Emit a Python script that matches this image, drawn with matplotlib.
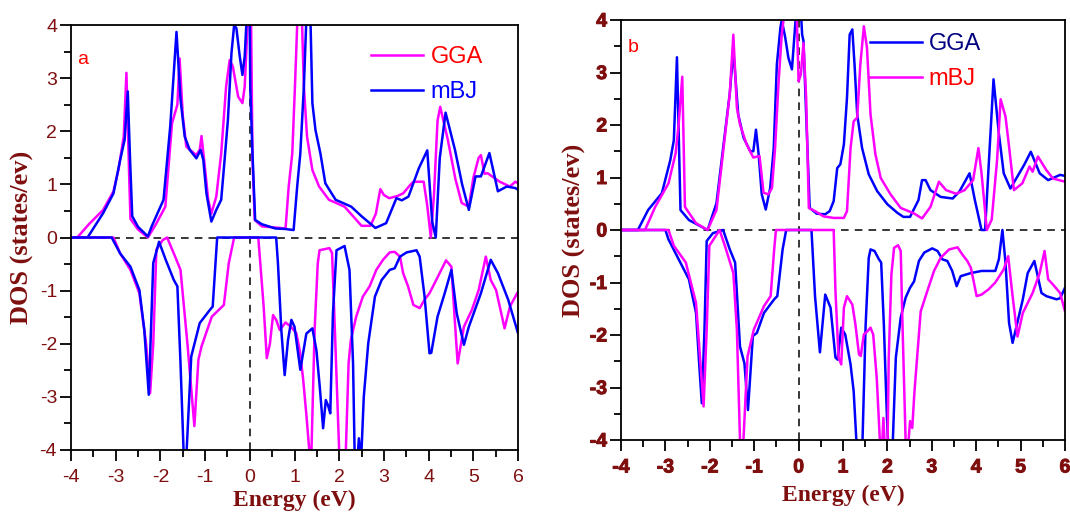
import os
import matplotlib
matplotlib.use("Agg")
import matplotlib.pyplot as plt
import matplotlib.patheffects as pe
from matplotlib.ticker import MultipleLocator
from matplotlib.font_manager import FontProperties

# ---- panel a : spin up ----
a_gga_up_x = [-4, -3.86, -3.6, -3.28, -3.05, -2.94, -2.82, -2.76, -2.7, -2.67, -2.5, -2.28, -2.1, -1.89,
              -1.74, -1.62, -1.57, -1.5, -1.42, -1.2, -1.12, -1.08, -1.03, -0.93, -0.86, -0.75, -0.64,
              -0.53, -0.45, -0.38, -0.26, -0.165, -0.114, -0.05, 0.0, 0.03, 0.06, 0.11, 0.27, 0.8, 0.87,
              0.95, 1.01, 1.06, 1.11, 1.17, 1.21, 1.28, 1.4, 1.55, 1.77, 2.12, 2.5, 2.7, 2.82, 2.92, 3.0,
              3.12, 3.3, 3.43, 3.6, 3.66, 3.89, 3.97, 4.05, 4.12, 4.2, 4.26, 4.43, 4.6, 4.74, 4.9, 5.0,
              5.12, 5.17, 5.25, 5.32, 5.59, 5.82, 5.94, 6.0]
a_gga_up_y = [0, 0, 0.25, 0.52, 0.87, 1.27, 1.9, 3.1, 1.2, 0.35, 0.15, 0.0, 0.25, 0.58,
              2.15, 2.5, 3.37, 2.3, 1.71, 1.55, 1.65, 1.91, 1.52, 0.71, 0.45, 0.77, 1.58,
              2.84, 3.34, 3.22, 2.65, 2.53, 2.84, 4.0, 5.0, 4.0, 1.5, 0.33, 0.21, 0.17, 0.96,
              1.58, 2.84, 4.0, 5.0, 4.0, 2.84, 1.9, 1.27, 0.96, 0.71, 0.58, 0.22, 0.22, 0.45, 0.91, 0.8,
              0.74, 0.78, 0.83, 1.0, 1.05, 1.05, 0.6, 0.0, 0.8, 2.2, 2.46, 1.84, 1.1, 0.65, 0.58, 1.12,
              1.5, 1.55, 1.2, 1.21, 1.05, 0.96, 1.05, 1.02]

a_mbj_up_x = [-4, -3.63, -3.28, -3.05, -2.9, -2.8, -2.73, -2.68, -2.63, -2.5, -2.28, -2.2, -1.93, -1.78,
              -1.64, -1.55, -1.456, -1.344, -1.195, -1.1, -1.04, -0.97, -0.86, -0.75, -0.64, -0.57,
              -0.49, -0.41, -0.35, -0.3, -0.225, -0.165, -0.114, -0.08, -0.04, -0.01, 0.01, 0.06, 0.12,
              0.27, 0.57, 0.8, 0.98, 1.06, 1.13, 1.21, 1.26, 1.31, 1.36, 1.4, 1.47, 1.58, 1.69, 1.92,
              2.27, 2.5, 2.81, 3.05, 3.28, 3.4, 3.55, 3.78, 3.97, 4.08, 4.16, 4.25, 4.38, 4.59, 4.75,
              4.9, 5.05, 5.17, 5.36, 5.55, 5.75, 5.94, 6.0]
a_mbj_up_y = [0, 0, 0.46, 0.83, 1.46, 1.84, 2.75, 1.5, 0.4, 0.2, 0.02, 0.2, 0.71, 2.09,
              3.87, 2.6, 1.9, 1.65, 1.49, 1.65, 1.46, 0.83, 0.3, 0.52, 0.71, 1.4,
              2.21, 3.47, 4.0, 3.94, 3.41, 3.06, 3.41, 3.97, 5.0, 5.0, 2.84, 1.58, 0.33,
              0.25, 0.17, 0.16, 0.14, 0.96, 1.58, 2.84, 4.0, 5.0, 4.0, 2.53, 2.02, 1.58, 1.02, 0.71,
              0.58, 0.4, 0.18, 0.27, 0.74, 0.7, 0.77, 1.3, 1.64, 0.3, 0.0, 1.5, 2.35, 1.65, 1.0,
              0.52, 1.15, 1.15, 1.59, 0.87, 0.96, 0.93, 0.9]

# ---- panel a : spin down ----
a_gga_dn_x = [-4, -3.05, -2.9, -2.67, -2.47, -2.32, -2.23, -2.16, -2.09, -1.95, -1.85, -1.7, -1.55,
              -1.39, -1.24, -1.15, -1.08, -0.85, -0.58, -0.47, -0.35, 0.19, 0.31, 0.38, 0.45, 0.52,
              0.59, 0.67, 0.8, 0.92, 1.04, 1.12, 1.19, 1.265, 1.33, 1.35, 1.38, 1.45, 1.52, 1.56,
              1.78, 1.84, 1.89, 1.97, 2.02, 2.13, 2.21, 2.26, 2.38, 2.53, 2.68, 2.83, 2.98, 3.13,
              3.24, 3.36, 3.43, 3.54, 3.66, 3.8, 3.91, 4.02, 4.2, 4.39, 4.51, 4.59, 4.65, 4.79,
              4.97, 5.12, 5.28, 5.39, 5.51, 5.7, 5.82, 5.98, 6.0]
a_gga_dn_y = [0, 0, -0.3, -0.61, -1.05, -2.0, -2.93, -2.0, -0.23, -0.05, 0.0, -0.3, -0.61,
              -2.05, -3.55, -2.3, -2.05, -1.49, -1.27, -0.48, 0.0, 0.0, -1.3, -2.27, -2.0, -1.46,
              -1.55, -1.74, -1.6, -1.68, -1.8, -2.14, -2.64, -3.33, -4.0, -4.5, -4.0, -1.74, -0.49, -0.24,
              -0.2, -0.29, -1.43, -3.33, -4.5, -4.5, -2.37, -1.93, -1.49, -1.11, -0.92, -0.61, -0.42, -0.28,
              -0.27, -0.36, -0.67, -0.92, -1.27, -1.33, -1.17, -1.05, -0.75, -0.43, -0.55, -1.61, -2.37, -1.68,
              -1.36, -0.99, -0.36, -0.8, -0.99, -1.71, -1.3, -1.05, -1.03]

a_mbj_dn_x = [-4, -3.09, -2.9, -2.67, -2.47, -2.36, -2.26, -2.16, -2.03, -1.89, -1.7, -1.62, -1.55,
              -1.47, -1.43, -1.31, -1.12, -0.89, -0.83, -0.73, 0.59, 0.63, 0.705, 0.78, 0.855, 0.93,
              1.0, 1.13, 1.265, 1.4, 1.49, 1.565, 1.64, 1.7, 1.75, 1.8, 1.86, 1.94, 2.12, 2.23, 2.31,
              2.35, 2.4, 2.44, 2.49, 2.55, 2.65, 2.8, 2.95, 3.13, 3.24, 3.36, 3.51, 3.73, 3.8, 3.91,
              4.02, 4.06, 4.2, 4.36, 4.51, 4.63, 4.79, 4.9, 5.17, 5.39, 5.55, 5.78, 6.0]
a_mbj_dn_y = [0, 0, -0.3, -0.55, -0.99, -1.74, -2.96, -0.48, -0.08, -0.4, -0.8, -0.92, -2.37,
              -4.3, -4.3, -2.24, -1.61, -1.36, -1.3, 0.0, 0.0, -0.49, -1.74, -2.59, -1.93, -1.55,
              -1.68, -2.49, -1.81, -1.71, -2.12, -2.81, -3.59, -3.06, -3.16, -3.31, -1.43, -0.24, -0.16, -0.61, -2.37,
              -4.3, -4.3, -3.78, -4.2, -3.0, -1.99, -1.11, -0.8, -0.61, -0.58, -0.36, -0.28, -0.24, -0.36, -1.11,
              -2.18, -2.17, -1.49, -1.05, -0.61, -1.43, -2.02, -1.68, -1.05, -0.42, -0.67, -1.17, -1.8]

# ---- panel b : spin up ----
b_gga_up_x = [-4, -3.62, -3.39, -3.08, -2.89, -2.81, -2.74, -2.66, -2.47, -2.05, -1.85, -1.66, -1.55,
              -1.47, -1.36, -1.24, -1.09, -1.02, -0.96, -0.9, -0.83, -0.74, -0.64, -0.56, -0.49, -0.41,
              -0.38, -0.3, -0.23, -0.15, -0.07, -0.03, 0.03, 0.08, 0.11, 0.17, 0.25, 0.41, 0.6, 0.7,
              0.79, 0.87, 0.94, 1.02, 1.09, 1.15, 1.21, 1.26, 1.32, 1.43, 1.58, 1.77, 2.0, 2.22, 2.36,
              2.51, 2.7, 2.78, 2.86, 2.97, 3.2, 3.47, 3.62, 3.85, 3.97, 4.12, 4.2, 4.28, 4.39, 4.51,
              4.62, 4.77, 4.97, 5.08, 5.23, 5.43, 5.62, 5.89, 6.0]
b_gga_up_y = [0, 0, 0.38, 0.7, 1.33, 1.71, 3.29, 0.38, 0.19, 0.0, 0.51, 1.84, 2.6,
              3.43, 2.2, 1.76, 1.5, 1.5, 1.91, 1.44, 0.68, 0.39, 0.8, 1.56, 3.15, 3.85,
              4.0, 3.66, 3.28, 3.06, 3.98, 4.5, 4.5, 3.72, 3.6, 2.2, 0.42, 0.31, 0.3, 0.36,
              0.55, 1.18, 1.25, 1.63, 2.52, 3.72, 3.82, 3.15, 2.2, 1.56, 1.06, 0.74, 0.49, 0.33, 0.25,
              0.25, 0.57, 0.95, 0.95, 0.76, 0.63, 0.6, 0.73, 1.08, 0.57, 0.0, 0.0, 1.21, 2.87, 1.84,
              1.08, 0.79, 1.08, 1.24, 1.49, 1.08, 0.95, 1.05, 1.03]

b_mbj_up_x = [-4, -3.46, -3.23, -2.93, -2.77, -2.7, -2.62, -2.56, -2.31, -2.05, -1.85, -1.66, -1.55,
              -1.47, -1.39, -1.32, -1.17, -1.02, -0.88, -0.79, -0.68, -0.6, -0.53, -0.45, -0.38, -0.34,
              -0.2, -0.05, 0.0, 0.05, 0.11, 0.17, 0.23, 0.37, 0.56, 0.79, 1.02, 1.09, 1.17, 1.24, 1.32,
              1.39, 1.47, 1.54, 1.62, 1.73, 1.85, 2.07, 2.3, 2.59, 2.78, 2.97, 3.16, 3.32, 3.55, 3.74,
              3.93, 4.05, 4.12, 4.24, 4.35, 4.47, 4.55, 4.66, 4.74, 4.85, 5.04, 5.2, 5.27, 5.39, 5.58,
              5.73, 6.0]
b_mbj_up_y = [0, 0, 0.44, 0.89, 1.46, 2.03, 2.92, 0.44, 0.13, 0.0, 0.38, 1.78, 2.6,
              3.72, 2.33, 2.01, 1.63, 1.38, 1.41, 0.71, 0.68, 0.8, 1.56, 2.83, 3.72, 4.0,
              4.5, 4.3, 2.83, 2.96, 3.56, 2.52, 0.42, 0.36, 0.26, 0.23, 0.23, 0.36, 1.56, 2.07, 2.14,
              3.15, 3.88, 3.47, 2.2, 1.44, 0.99, 0.68, 0.42, 0.32, 0.22, 0.44, 0.92, 0.76, 0.69, 0.76,
              0.95, 1.56, 1.08, 0.0, 0.2, 1.33, 2.49, 2.16, 1.59, 0.76, 0.89, 1.21, 1.11, 1.4, 1.14,
              0.98, 0.92]

# ---- panel b : spin down ----
b_gga_dn_x = [-4, -3.0, -2.93, -2.7, -2.47, -2.31, -2.24, -2.18, -2.12, -2.07, -1.93, -1.7, -1.55,
              -1.43, -1.32, -1.22, -1.14, -1.03, -0.94, -0.78, -0.55, -0.48, -0.36, -0.28, 0.29, 0.37,
              0.48, 0.6, 0.72, 0.83, 0.88, 0.96, 1.05, 1.17, 1.24, 1.32, 1.43, 1.51, 1.58, 1.62, 1.71,
              1.81, 1.86, 1.92, 1.99, 2.03, 2.11, 2.19, 2.3, 2.41, 2.51, 2.6, 2.71, 2.83, 3.01, 3.13,
              3.24, 3.35, 3.46, 3.56, 3.65, 3.88, 4.12, 4.43, 4.51, 4.59, 4.66, 4.74, 4.82, 5.05, 5.16,
              5.31, 5.47, 5.58, 5.81, 5.89, 6.0]
b_gga_dn_y = [0, 0, -0.18, -0.56, -0.94, -1.58, -2.54, -3.3, -1.9, -0.21, -0.06, 0.0, -0.37,
              -0.62, -2.22, -2.54, -3.43, -2.02, -1.96, -1.58, -1.32, -1.26, -0.37, 0.0, 0.0, -1.26,
              -2.33, -1.23, -1.48, -2.43, -2.47, -1.86, -1.99, -2.56, -3.07, -4.3, -4.3, -1.8, -0.53, -0.37, -0.4,
              -0.56, -0.62, -1.8, -3.58, -4.3, -4.3, -2.43, -1.67, -1.29, -1.1, -0.98, -0.59, -0.43, -0.35, -0.4,
              -0.56, -0.59, -0.78, -1.07, -0.88, -0.82, -0.78, -0.78, -0.56, 0.0, -0.62, -1.77, -2.15, -1.32, -0.82,
              -0.59, -1.2, -1.26, -1.32, -1.3, -1.1]

b_mbj_dn_x = [-4, -2.93, -2.81, -2.54, -2.31, -2.2, -2.14, -2.07, -2.01, -1.78, -1.66, -1.47, -1.39,
              -1.31, -1.26, -1.15, -1.01, -0.78, -0.63, -0.55, -0.51, 0.79, 0.83, 0.9, 0.96, 1.02,
              1.09, 1.21, 1.28, 1.36, 1.4, 1.47, 1.55, 1.62, 1.68, 1.76, 1.83, 1.87, 1.91, 1.95, 2.0,
              2.03, 2.09, 2.15, 2.24, 2.3, 2.34, 2.41, 2.45, 2.51, 2.56, 2.61, 2.68, 2.75, 2.9, 3.05,
              3.2, 3.39, 3.58, 3.69, 3.8, 3.88, 4.01, 4.12, 4.28, 4.43, 4.62, 4.72, 4.82, 4.93, 5.05,
              5.27, 5.43, 5.54, 5.62, 5.73, 5.89, 6.0]
b_mbj_dn_y = [0, 0, -0.3, -0.62, -1.39, -2.66, -3.36, -1.9, -0.3, 0.0, -0.3, -0.82, -1.9,
              -4.3, -4.3, -2.41, -1.9, -1.45, -1.26, -0.37, 0.0, 0.0, -1.16, -2.43, -2.56, -1.48,
              -1.26, -1.42, -1.8, -2.37, -2.4, -1.99, -1.93, -1.86, -1.99, -2.82, -4.0, -4.3, -3.58, -4.3, -4.3,
              -2.43, -0.85, -0.34, -0.29, -0.4, -1.8, -4.0, -4.3, -3.64, -3.77, -3.07, -2.31, -1.55, -1.16, -0.78,
              -0.53, -0.37, -0.33, -0.47, -0.59, -0.72, -1.26, -1.23, -1.13, -1.0, -0.75, -0.5, -1.26, -2.03, -1.58,
              -1.2, -0.82, -0.4, -0.94, -1.04, -1.2, -1.55]

x_ticks = [-4, -3, -2, -1, 0, 1, 2, 3, 4, 5, 6]
y_ticks = [-4, -3, -2, -1, 0, 1, 2, 3, 4]
x_ticklabels = ['-4', '-3', '-2', '-1', '0', '1', '2', '3', '4', '5', '6']
y_ticklabels = ['-4', '-3', '-2', '-1', '0', '1', '2', '3', '4']

MAGENTA = '#FF00FF'
BLUE = '#0000FF'
DARKRED = '#7F0F0F'

BOLD_TTF = '/usr/share/fonts/truetype/liberation/LiberationSans-Bold.ttf'
if os.path.exists(BOLD_TTF):
    tick_fp_bold = FontProperties(fname=BOLD_TTF, size=14)
else:
    tick_fp_bold = FontProperties(family='Liberation Sans', weight='bold', size=14)
tick_fp_reg = FontProperties(family='Liberation Sans', weight='normal', size=14)

fig = plt.figure(figsize=(10.7, 5.13), dpi=100)
ax_a = fig.add_axes([71 / 1070, 63 / 513, 447 / 1070, 425 / 513])
ax_b = fig.add_axes([621 / 1070, 73 / 513, 444 / 1070, 420 / 513])


def style_axes(ax, fp, heavy):
    ax.set_xlim(-4, 6)
    ax.set_ylim(-4, 4)
    ax.set_xticks(x_ticks)
    ax.set_yticks(y_ticks)
    ax.xaxis.set_minor_locator(MultipleLocator(0.5))
    ax.yaxis.set_minor_locator(MultipleLocator(0.5))
    ax.tick_params(which='major', direction='out', length=8, width=1.3, top=False, right=False,
                   labelbottom=False, labelleft=False)
    ax.tick_params(which='minor', direction='out', length=5, width=1.3, top=False, right=False)
    for sp in ax.spines.values():
        sp.set_linewidth(1.3)
    ax.axhline(0, color='black', lw=1.1, ls=(0, (5, 4)), zorder=1)
    ax.axvline(0, color='black', lw=1.1, ls=(0, (5, 4)), zorder=1)
    effects = [pe.withStroke(linewidth=0.7, foreground=DARKRED)] if heavy else None
    # tick labels as plain texts so the weight sticks (regular in a, bold in b)
    for t, lbl in zip(x_ticks, x_ticklabels):
        ax.annotate(lbl, xy=(t, 0), xycoords=('data', 'axes fraction'), xytext=(0, -14),
                    textcoords='offset points', ha='center', va='top', fontproperties=fp,
                    color=DARKRED, annotation_clip=False, path_effects=effects)
    for t, lbl in zip(y_ticks, y_ticklabels):
        ax.annotate(lbl, xy=(0, t), xycoords=('axes fraction', 'data'), xytext=(-10, 0),
                    textcoords='offset points', ha='right', va='center_baseline',
                    fontproperties=fp, color=DARKRED, annotation_clip=False,
                    path_effects=effects)


leg_style = dict(loc='upper left', frameon=False, prop={'family': 'Liberation Sans', 'size': 17},
                 handlelength=2.2, handletextpad=0.3, labelspacing=0.55, borderpad=0,
                 borderaxespad=0)

# panel a
ax_a.plot(a_gga_up_x, a_gga_up_y, color=MAGENTA, lw=1.8, label='GGA')
ax_a.plot(a_mbj_up_x, a_mbj_up_y, color=BLUE, lw=1.8, label='mBJ')
ax_a.plot(a_gga_dn_x, a_gga_dn_y, color=MAGENTA, lw=1.8)
ax_a.plot(a_mbj_dn_x, a_mbj_dn_y, color=BLUE, lw=1.8)
style_axes(ax_a, tick_fp_reg, heavy=False)
ax_a.legend(bbox_to_anchor=(0.672, 0.95), labelcolor=['#FF0000', BLUE], **leg_style)
ax_a.text(0.014, 0.908, 'a', transform=ax_a.transAxes, color='#FF0000', fontsize=14,
          fontfamily='Liberation Sans')

# panel b
ax_b.plot(b_gga_up_x, b_gga_up_y, color=BLUE, lw=1.8, label='GGA')
ax_b.plot(b_mbj_up_x, b_mbj_up_y, color=MAGENTA, lw=1.8, label='mBJ')
ax_b.plot(b_gga_dn_x, b_gga_dn_y, color=BLUE, lw=1.8)
ax_b.plot(b_mbj_dn_x, b_mbj_dn_y, color=MAGENTA, lw=1.8)
style_axes(ax_b, tick_fp_bold, heavy=True)
ax_b.legend(bbox_to_anchor=(0.56, 0.968), labelcolor=['#000080', '#FF0000'], **leg_style)
ax_b.text(0.015, 0.925, 'b', transform=ax_b.transAxes, color='#FF0000', fontsize=14,
          fontfamily='Liberation Sans')

for ax, ylab_x, xlab_y in [(ax_a, -0.108, -0.118), (ax_b, -0.105, -0.131)]:
    ax.text(ylab_x, 0.5, 'DOS (states/ev)', transform=ax.transAxes, rotation=90,
            ha='center', va='center', color=DARKRED, fontsize=19, fontweight='bold',
            fontfamily='Liberation Serif')
    ax.text(0.5, xlab_y, 'Energy (eV)', transform=ax.transAxes, ha='center', va='center',
            color=DARKRED, fontsize=17, fontweight='bold', fontfamily='Liberation Serif')

fig.savefig('out.png', dpi=100)
